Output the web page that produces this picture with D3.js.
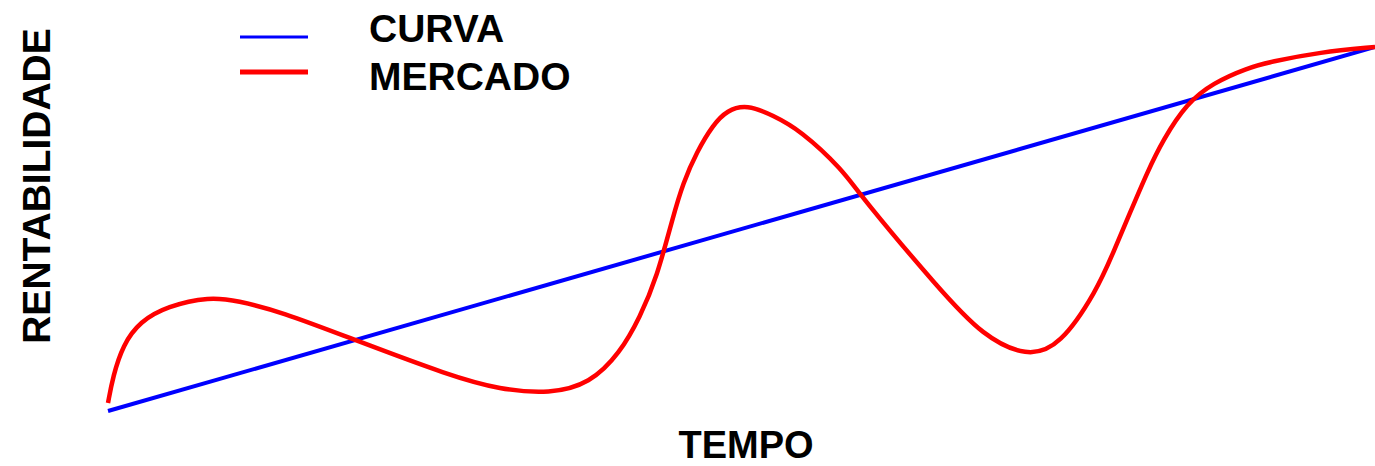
<!DOCTYPE html>
<html><head><meta charset="utf-8">
<script src="https://cdn.jsdelivr.net/npm/d3@7"></script>
<style>html,body{margin:0;padding:0;background:#fff;}svg{display:block;}</style>
</head><body>
<svg id="chart" width="1375" height="466"></svg>
<script>
const seriesNames = ["CURVA", "MERCADO"];
const seriesColors = ["#0000ff", "#ff0000"];
const curvaX = [0, 100];
const curvaY = [0, 100];
const mercadoX = [0, 0.39, 1.18, 2.53, 4.66, 8.05, 10.18, 13.58, 19.5, 26.99, 30.93, 34.89, 38.04, 40.41, 41.99, 43.33, 44.59, 45.38, 46.49, 47.75, 48.86, 50.43, 52.49, 54.62, 58.01, 59.35, 65.67, 69.06, 72.53, 75.14, 78.06, 79.32, 80.66, 82.0, 83.27, 85.16, 87.21, 89.9, 91.71, 95.66, 100];
const mercadoY = [2.2, 9.5, 18.2, 24.6, 28.8, 31.4, 30.3, 27.4, 19.5, 9.7, 5.9, 4.7, 7.5, 15.9, 25.8, 36.8, 53.3, 62.6, 71.3, 78.6, 82.6, 84.2, 81.2, 77.2, 66.2, 59.3, 33.2, 20.6, 14.8, 17.8, 33.2, 43.4, 54.4, 65.4, 74.5, 84.6, 90.1, 94.2, 95.9, 98.6, 100];
const xLabel = "TEMPO";
const yLabel = "RENTABILIDADE";

const svg = d3.select("#chart");
const x = d3.scaleLinear().domain([0, 100]).range([108, 1375]);
const y = d3.scaleLinear().domain([0, 100]).range([411, 47]);

const curvaData = curvaX.map((v, i) => [v, curvaY[i]]);
const mercadoData = mercadoX.map((v, i) => [v, mercadoY[i]]);

svg.append("path").datum(curvaData)
  .attr("d", d3.line().x(d => x(d[0])).y(d => y(d[1])))
  .attr("fill", "none").attr("stroke", seriesColors[0]).attr("stroke-width", 4);
svg.append("path").datum(mercadoData)
  .attr("d", d3.line().x(d => x(d[0])).y(d => y(d[1])).curve(d3.curveBasis))
  .attr("fill", "none").attr("stroke", seriesColors[1]).attr("stroke-width", 4.5)
  .attr("stroke-linejoin", "round");

const font = "'Liberation Sans', Arial, sans-serif";
const legendLineY = [37, 72];
const legendTextY = [42, 90];
const legend = svg.append("g");
seriesNames.forEach((name, i) => {
  legend.append("line").attr("x1", 240).attr("x2", 308)
    .attr("y1", legendLineY[i]).attr("y2", legendLineY[i])
    .attr("stroke", seriesColors[i]).attr("stroke-width", i === 0 ? 3 : 5);
  legend.append("text").attr("x", 369).attr("y", legendTextY[i])
    .attr("font-family", font).attr("font-weight", "bold").attr("font-size", 39)
    .attr("fill", "#000").text(name);
});

svg.append("text").attr("x", 746).attr("y", 458).attr("text-anchor", "middle")
  .attr("font-family", font).attr("font-weight", "bold").attr("font-size", 38)
  .attr("fill", "#000").text(xLabel);
svg.append("text").attr("transform", "translate(50,186) rotate(-90)").attr("text-anchor", "middle")
  .attr("font-family", font).attr("font-weight", "bold").attr("font-size", 39)
  .attr("fill", "#000").text(yLabel);
</script>
</body></html>
